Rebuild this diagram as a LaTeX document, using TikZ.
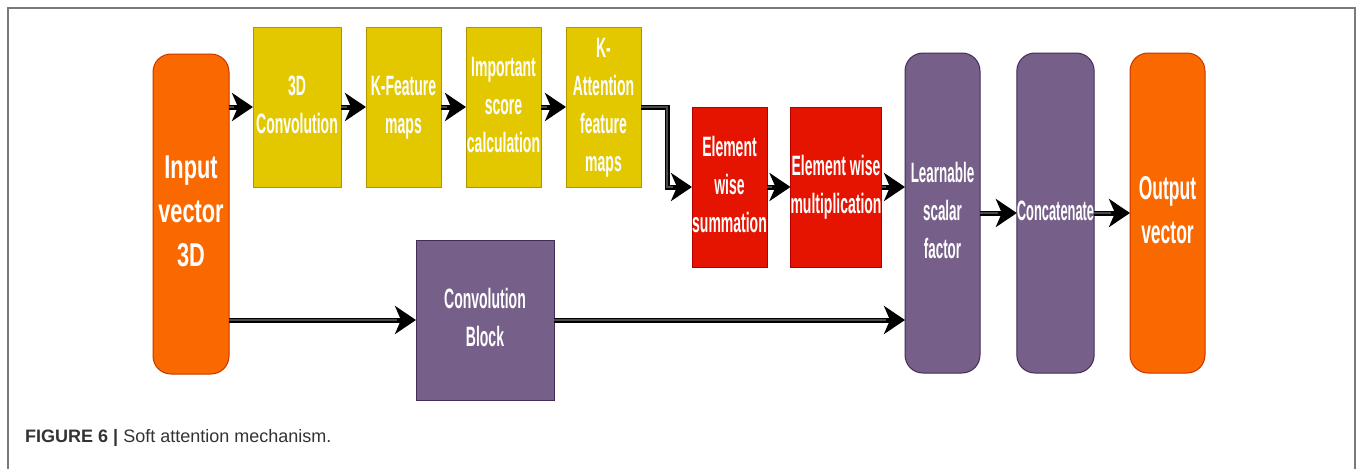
\documentclass[tikz,border=0pt]{standalone}
\usepackage{fontspec}
\usepackage{graphicx}
\setmainfont{Liberation Sans}
\usetikzlibrary{arrows.meta}

\definecolor{orgfill}{HTML}{FA6800}
\definecolor{orgline}{HTML}{C73500}
\definecolor{ylwfill}{HTML}{E3C800}
\definecolor{ylwline}{HTML}{B09500}
\definecolor{redfill}{HTML}{E51400}
\definecolor{redline}{HTML}{B20000}
\definecolor{prpfill}{HTML}{76608A}
\definecolor{prpline}{HTML}{432D57}
\definecolor{framegray}{HTML}{7A7A7A}
\definecolor{coregray}{HTML}{4A4A4A}

% condensed multi-line label
\newcommand{\cn}[2][0.5]{\scalebox{#1}[1]{\begin{tabular}{@{}c@{}}#2\end{tabular}}}

\begin{document}
\begin{tikzpicture}[x=1pt,y=-1pt,
  blk/.style={rectangle, inner sep=0pt, outer sep=0pt, line width=1pt, text=white,
    font=\fontsize{28}{38}\selectfont\bfseries},
  tall/.style={blk, minimum width=76pt, minimum height=320pt, rounded corners=18pt},
  short/.style={blk, minimum height=160pt},
  big/.style={font=\fontsize{33}{44}\selectfont\bfseries},
  orangeblk/.style={fill=orgfill, draw=orgline},
  yellowblk/.style={fill=ylwfill, draw=ylwline},
  redblk/.style={fill=redfill, draw=redline},
  purpleblk/.style={fill=prpfill, draw=prpline},
  flow/.style={draw=black, line width=5pt,
    -{Stealth[length=21pt,width=28pt,inset=6pt]},
    postaction={draw=coregray, line width=1.3pt, arrows=-, shorten >=19pt}}
]
\useasboundingbox (0,0) rectangle (1358,469);
\fill[white] (0,0) rectangle (1358,469);

% outer frame
\draw[framegray, line width=1.3pt] (8,469) -- (8,8) -- (1355,8) -- (1355,469);

% blocks
\node[tall, orangeblk, big] (input) at (191,214) {\cn[0.66]{Input\\vector\\3D}};
\node[short, yellowblk, minimum width=88pt] (conv3d) at (297,107) {\cn{3D\\Convolution}};
\node[short, yellowblk, minimum width=75pt] (kfeat) at (403.5,107) {\cn{K-Feature\\maps}};
\node[short, yellowblk, minimum width=75pt] (imp) at (503.5,107) {\cn{Important\\score\\calculation}};
\node[short, yellowblk, minimum width=75pt] (katt) at (603.5,107) {\cn{K-\\Attention\\feature\\maps}};
\node[short, redblk, minimum width=75pt] (esum) at (729.5,187) {\cn{Element\\wise\\summation}};
\node[short, redblk, minimum width=88pt] (emul) at (836,187) {\cn{Element wise\\multiplication}};
\node[tall, purpleblk, minimum width=75pt] (learn) at (942.5,213) {\cn[0.48]{Learnable\\scalar\\factor}};
\node[tall, purpleblk, minimum width=75pt] (concat) at (1055.5,213) {\cn[0.46]{Concatenate}};
\node[tall, orangeblk, big, minimum width=75pt] (out) at (1167.5,213) {\cn[0.53]{Output\\vector}};
\node[short, purpleblk, minimum width=138pt] (convblk) at (485,320) {\cn{Convolution\\Block}};

% connectors
\draw[flow] (input.east |- conv3d.west) -- (conv3d.west);
\draw[flow] (conv3d.east) -- (kfeat.west);
\draw[flow] (kfeat.east) -- (imp.west);
\draw[flow] (imp.east) -- (katt.west);
\draw[flow] (katt.east) -- ++(26,0) |- (esum.west);
\draw[flow] (esum.east) -- (emul.west);
\draw[flow] (emul.east) -- (emul.east -| learn.west);
\draw[flow] (learn.east) -- (concat.west);
\draw[flow] (concat.east) -- (out.west);
\draw[flow] (input.east |- convblk.west) -- (convblk.west);
\draw[flow] (convblk.east) -- (convblk.east -| learn.west);

% caption
\node[anchor=base west, inner sep=0pt, font=\fontsize{18}{21}\selectfont, text=black!80]
  (caption) at (25,442) {\textbf{FIGURE 6 |} Soft attention mechanism.};
\end{tikzpicture}
\end{document}
